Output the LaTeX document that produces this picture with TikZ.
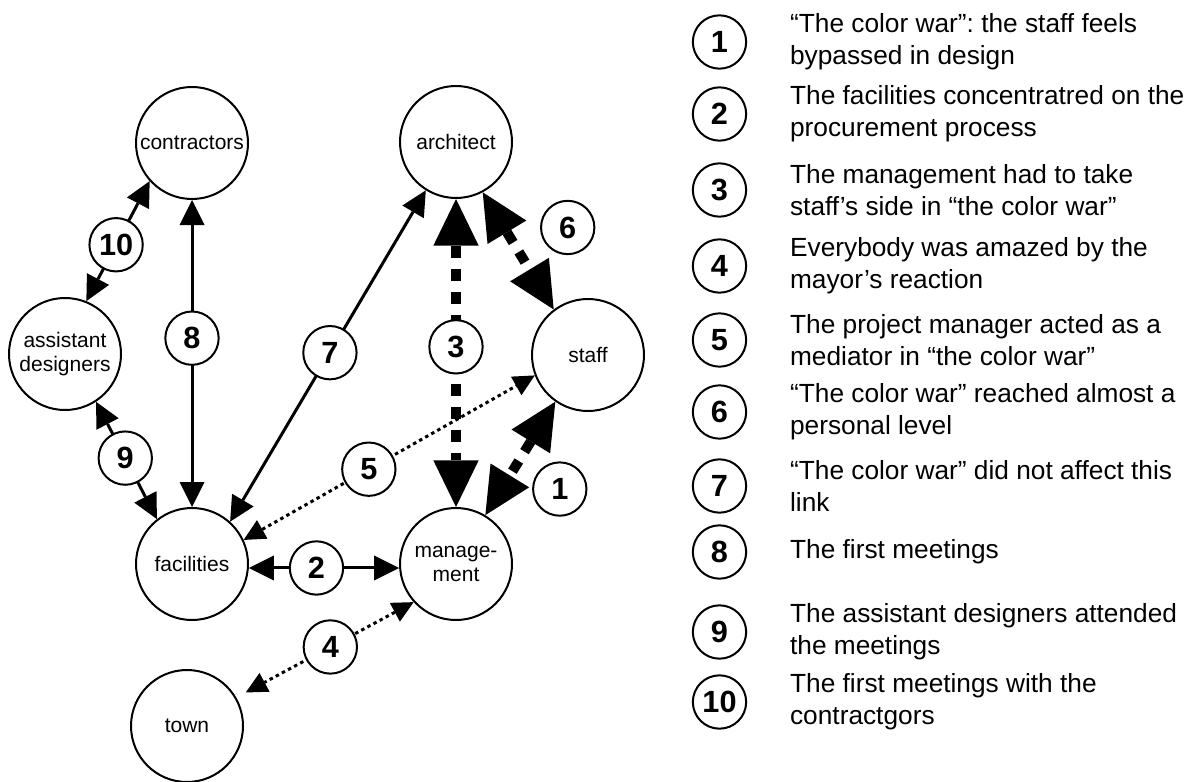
\documentclass[tikz,border=0pt]{standalone}
\usepackage{fontspec}
\setmainfont{Liberation Sans}
\usetikzlibrary{arrows.meta,positioning}
\frenchspacing

\begin{document}
\begin{tikzpicture}[x=0.75pt,y=-0.75pt,
    party/.style={circle,draw,line width=1.5pt,minimum size=84pt,inner sep=0pt,align=center,font=\fontsize{15.75}{18}\selectfont},
    num/.style={circle,draw,solid,fill=white,line width=1.5pt,minimum size=40pt,inner sep=0pt,font=\fontsize{23}{23}\selectfont\bfseries},
    note/.style={align=left,inner sep=0pt,font=\fontsize{19.7}{24}\selectfont},
    link/.style={<->,>={Triangle[length=18.75pt,width=18.75pt,line width=0pt]},line width=2.25pt},
    dots/.style={<->,>={Triangle[length=16pt,width=16pt,line width=0pt]},line width=2.25pt,dash pattern=on 2.6pt off 2.6pt},
    war/.style={<->,>={Triangle[length=35pt,width=34pt,line width=0pt]},line width=7.5pt,dash pattern=on 9pt off 8.25pt}]
  \useasboundingbox (0,0) rectangle (1194,781);

  % the parties
  \node (con) [party] at (192,143) {contractors};
  \node (arc) [party] at (456,142) {architect};
  \node (asd) [party] at (65,354)  {assistant\\designers};
  \node (stf) [party] at (588,355) {staff};
  \node (fac) [party] at (192,564) {facilities};
  \node (mgt) [party] at (456,564) {manage-\\ment};
  \node (twn) [party] at (187,726) {town};

  % links between them
  \path (asd.68)  edge[link] node[num,pos=.47] {10} (con.222)
        (con.south) edge[link] node[num,pos=.45] {8} (fac.north)
        (arc.238) edge[link] node[num,pos=.49] {7} (fac.48)
        (asd.303) edge[link] node[num,pos=.48] {9} (fac.128)
        (fac.356) edge[link] node[num,pos=.45] {2} (mgt.184)
        (fac.25)  edge[dots] node[num,pos=.43] {5} (stf.201)
        (mgt.222) edge[dots,shorten >=8pt] node[num,pos=.47] {4} (twn.30)
        (arc.south) edge[war] node[num,pos=.48] {3} (mgt.north)
        (arc.298) edge[war] node[num,pos=.3,right=27pt] {6} (stf.127)
        (stf.235) edge[war] node[num,pos=.77,right=23pt] {1} (mgt.59);

  % key
  \node (k1)  [num] at (719.5,42)  {1};
  \node (k2)  [num] at (719.5,114) {2};
  \node (k3)  [num] at (719.5,190) {3};
  \node (k4)  [num] at (719.5,266) {4};
  \node (k5)  [num] at (719.5,340) {5};
  \node (k6)  [num] at (719.5,412) {6};
  \node (k7)  [num] at (719.5,486) {7};
  \node (k8)  [num] at (719.5,552) {8};
  \node (k9)  [num] at (719.5,632) {9};
  \node (k10) [num] at (719.5,702) {10};
  \node (d1)  [note,right=32pt of k1]  {“The color war”: the staff feels\\bypassed in design};
  \node (d2)  [note,right=32pt of k2]  {The facilities concentratred on the\\procurement process};
  \node (d3)  [note,right=32pt of k3]  {The management had to take\\staff’s side in “the color war”};
  \node (d4)  [note,right=32pt of k4]  {Everybody was amazed by the\\mayor’s reaction};
  \node (d5)  [note,right=32pt of k5]  {The project manager acted as a\\mediator in “the color war”};
  \node (d6)  [note,right=32pt of k6]  {“The color war” reached almost a\\personal level};
  \node (d7)  [note,right=32pt of k7]  {“The color war” did not affect this\\link};
  \node (d8)  [note,right=32pt of k8]  {The first meetings};
  \node (d9)  [note,right=32pt of k9]  {The assistant designers attended\\the meetings};
  \node (d10) [note,right=32pt of k10] {The first meetings with the\\contractgors};
\end{tikzpicture}
\end{document}
